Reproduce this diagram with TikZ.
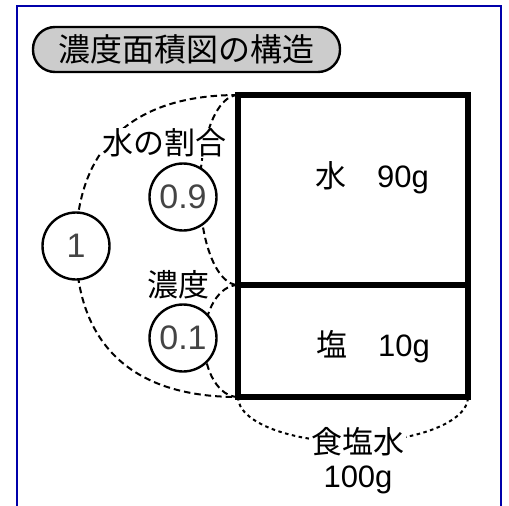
\documentclass[tikz,border=0pt]{standalone}
\usepackage{fontspec}
\setmainfont{Liberation Sans}
\newfontfamily\jp{Noto Sans CJK JP}
\definecolor{framecol}{RGB}{0,0,170}
\definecolor{numgray}{RGB}{68,68,68}
\begin{document}
\begin{tikzpicture}[x=1pt,y=-1pt,
  big/.style={font=\fontsize{31}{36}\selectfont},
  numcirc/.style={circle,draw=black,line width=2.4pt,fill=white,minimum size=67pt,inner sep=0pt,text=numgray,font=\fontsize{34}{40}\selectfont},
  lbl/.style={fill=white,inner sep=1pt,font=\fontsize{31}{36}\jp},
  dashline/.style={line width=2pt,dash pattern=on 6.5pt off 4pt},
  dotline/.style={line width=2pt,dash pattern=on 3.5pt off 3.5pt},
  boxline/.style={line width=5.5pt,line cap=rect}]
\clip (0,0) rectangle (509,506);
% frame
\draw[framecol,line width=2.6pt] (17,6) rectangle (501,530);
% title
\node[draw=black,line width=2.4pt,fill=gray!40,rounded corners=22pt,minimum width=307pt,minimum height=45pt,inner sep=0pt,font=\fontsize{32}{36}\jp] (title) at (186.5,49.5) {濃度面積図の構造};
% key points
\coordinate (tl) at (238,95);
\coordinate (ml) at (238,285);
\coordinate (bl) at (238,397);
\coordinate (br) at (468,397);
\coordinate (mr) at (468,285);
\coordinate (c1) at (76,246);
\coordinate (c9) at (183,197);
\coordinate (c01) at (183,338);
% dashed arcs
\draw[dashline] (tl) .. controls +(-118,0) and +(0,-86) .. (c1) .. controls +(0,86) and +(-118,0) .. (bl);
\draw[dashline] (tl) arc[start angle=270,end angle=90,x radius=38,y radius=95];
\draw[dashline] (ml) arc[start angle=270,end angle=90,x radius=34,y radius=56];
\draw[dotline] (bl) arc[start angle=180,end angle=0,x radius=115,y radius=45];
% rectangle
\draw[boxline] (tl) rectangle (br);
\draw[boxline] (ml) -- (mr);
% labels
\node[lbl] (wr) at (164,143) {水の割合};
\node[lbl] (nd) at (178,285) {濃度};
\node[lbl] (sw) at (358,442) {食塩水};
\node[fill=white,inner sep=1pt,big] (sg) at (358,480) {100g};
\node[big] (water) at (372,178) {{\jp 水　}90g};
\node[big] (salt) at (373,347) {{\jp 塩　}10g};
% circles
\node[numcirc] (one) at (c1) {1};
\node[numcirc] (n9) at (c9) {0.9};
\node[numcirc] (n1) at (c01) {0.1};
\end{tikzpicture}
\end{document}
